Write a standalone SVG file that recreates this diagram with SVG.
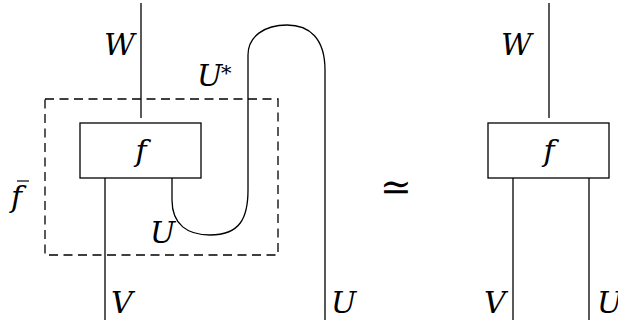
<svg xmlns="http://www.w3.org/2000/svg" width="618" height="326" viewBox="0 0 618 326">
<style>
.w{fill:none;stroke:#000;stroke-width:1.3}
.box{fill:#fff;stroke:#000;stroke-width:1.3}
.dash{fill:none;stroke:#000;stroke-width:1.3;stroke-dasharray:9,5.5}
.t{font-family:"DejaVu Serif",serif;font-style:italic;font-size:30px;fill:#000}
.c{text-anchor:middle}
</style>
<g id="connectors">
<line class="w" x1="141" y1="3" x2="141" y2="118"/>
<line class="w" x1="105" y1="178" x2="105" y2="320"/>
<path class="w" d="M172,178 L172,200 C172,225 188,235 210,235 C240,235 248,218 248,190 L248,55 C248,36 265,25 287,25 C309,25 325,38 325,70 L325,320"/>
<line class="w" x1="549" y1="3" x2="549" y2="118"/>
<line class="w" x1="513" y1="178" x2="513" y2="320"/>
<line class="w" x1="589" y1="178" x2="589" y2="320"/>
</g>
<g id="fbar">
<rect class="dash" x="45" y="99" width="233" height="156"/>
<text class="t" x="11" y="207">f</text>
<line x1="17" y1="181" x2="29" y2="181" stroke="#000" stroke-width="1.2"/>
</g>
<g id="f-left">
<rect class="box" x="80" y="123" width="121" height="55"/>
<text class="t c" x="141" y="161">f</text>
</g>
<g id="f-right">
<rect class="box" x="488" y="123" width="121" height="55"/>
<text class="t c" x="549" y="161">f</text>
</g>
<g id="labels">
<text class="t" x="104" y="55">W</text>
<text class="t" x="197" y="86">U</text>
<text x="221" y="80" style="font-family:'DejaVu Serif',serif;font-size:21px">*</text>
<text class="t" x="150" y="243">U</text>
<text class="t" x="111" y="313">V</text>
<text class="t" x="331" y="313">U</text>
<text class="t" x="501" y="55">W</text>
<text class="t" x="484" y="313">V</text>
<text class="t" x="597" y="313">U</text>
<text x="396" y="200" style="font-family:'DejaVu Serif',serif;font-size:38px;text-anchor:middle">≃</text>
</g>
</svg>
